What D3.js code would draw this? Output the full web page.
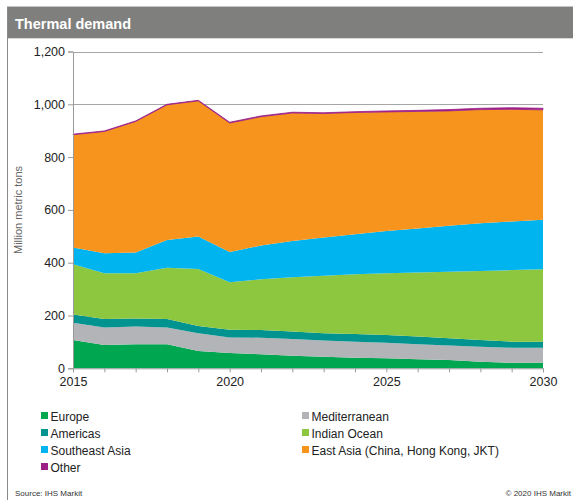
<!DOCTYPE html>
<html>
<head>
<meta charset="utf-8">
<script src="https://cdn.jsdelivr.net/npm/d3@7"></script>
<style>
  html, body { margin: 0; padding: 0; background: #fff; }
  svg { display: block; font-family: "Liberation Sans", Arial, sans-serif; }
</style>
</head>
<body>
<svg id="chart" width="573" height="500"></svg>
<script>
// Thermal coal demand by region, million metric tons
const years = [2015, 2016, 2017, 2018, 2019, 2020, 2021, 2022, 2023, 2024, 2025, 2026, 2027, 2028, 2029, 2030];
const europe        = [107, 88, 91, 91, 66, 58, 53, 48, 44, 40, 38, 34, 31, 25, 21, 21];
const mediterranean = [66, 67, 67, 64, 67, 59, 63, 63, 61, 61, 59, 57, 55, 57, 57, 57];
const americas      = [31, 32, 31, 32, 27, 29, 29, 28, 28, 29, 29, 29, 28, 25, 23, 23];
const indianOcean   = [190, 173, 171, 194, 216, 180, 192, 206, 218, 226, 234, 243, 252, 262, 271, 274];
const southeastAsia = [64, 76, 79, 105, 123, 115, 128, 137, 144, 152, 160, 167, 174, 180, 184, 188];
const eastAsia      = [427, 461, 496, 512, 514, 488, 488, 485, 470, 461, 451, 443, 435, 431, 425, 416];
const other         = [2, 2, 2, 2, 2, 3, 3, 3, 3, 3, 4, 4, 5, 5, 6, 6];

const seriesNames = ["Europe", "Mediterranean", "Americas", "Indian Ocean", "Southeast Asia",
                     "East Asia (China, Hong Kong, JKT)", "Other"];
const seriesValues = [europe, mediterranean, americas, indianOcean, southeastAsia, eastAsia, other];
const seriesColors = ["#00a650", "#b2b4b7", "#009390", "#8dc63f", "#00b4ef", "#f7941e", "#9c1f86"];
const yTicks = [0, 200, 400, 600, 800, 1000, 1200];
const xTickLabels = [2015, 2020, 2025, 2030];

const svg = d3.select("#chart");

// Frame and title band
svg.append("rect").attr("x", 7.5).attr("y", 7).attr("width", 570).attr("height", 500)
  .attr("fill", "none").attr("stroke", "#8a8a8a").attr("stroke-width", 1);
svg.append("rect").attr("x", 8).attr("y", 7).attr("width", 565).attr("height", 31)
  .attr("fill", "#7f807e");
svg.append("line").attr("x1", 8).attr("x2", 573).attr("y1", 38.5).attr("y2", 38.5)
  .attr("stroke", "#d9d9d9").attr("stroke-width", 1);
svg.append("text").attr("x", 15).attr("y", 29)
  .attr("fill", "#ffffff").attr("font-weight", "bold").attr("font-size", "14.5px")
  .text("Thermal demand");

// Plot area
const plotLeft = 73, plotRight = 543, plotTop = 51.5, plotBottom = 368.3;
const x = d3.scaleLinear().domain([2015, 2030]).range([plotLeft, plotRight]);
const y = d3.scaleLinear().domain([0, 1200]).range([plotBottom, plotTop]);

// Gridlines
svg.append("g").selectAll("line").data(yTicks.filter(d => d > 0)).join("line")
  .attr("x1", plotLeft).attr("x2", plotRight)
  .attr("y1", d => Math.round(y(d)) + 0.5).attr("y2", d => Math.round(y(d)) + 0.5)
  .attr("stroke", "#a6a6a6").attr("stroke-width", 1);

// Stacked areas
const rows = years.map((yr, i) => {
  const r = { year: yr };
  seriesNames.forEach((n, k) => { r[n] = seriesValues[k][i]; });
  return r;
});
const stack = d3.stack().keys(seriesNames);
const layers = stack(rows);
const area = d3.area()
  .x(d => x(d.data.year))
  .y0(d => y(d[0]))
  .y1(d => y(d[1]));

svg.append("g").selectAll("path").data(layers).join("path")
  .attr("d", area)
  .attr("fill", (d, i) => seriesColors[i])
  .attr("stroke", (d, i) => i === 6 ? seriesColors[i] : "none")
  .attr("stroke-width", 0.8);

// Y axis
const yAxis = d3.axisLeft(y).tickValues(yTicks).tickSize(5).tickPadding(3)
  .tickFormat(d3.format(","));
const gy = svg.append("g").attr("transform", `translate(${plotLeft},0)`).call(yAxis);
gy.select(".domain").attr("stroke", "#9a9a9a");
gy.selectAll(".tick line").attr("stroke", "#9a9a9a");
gy.selectAll(".tick text").attr("font-size", "12.5px").attr("fill", "#222")
  .attr("font-family", "'Liberation Sans', Arial, sans-serif");

// X axis: a tick every year, labels every five years
const xAxis = d3.axisBottom(x).tickValues(years).tickSize(4).tickPadding(5)
  .tickFormat(d => xTickLabels.includes(d) ? String(d) : "");
const gx = svg.append("g").attr("transform", `translate(0,${plotBottom})`).call(xAxis);
gx.select(".domain").attr("stroke", "#9a9a9a");
gx.selectAll(".tick line").attr("stroke", "#9a9a9a");
gx.selectAll(".tick text").attr("font-size", "12.5px").attr("fill", "#222")
  .attr("font-family", "'Liberation Sans', Arial, sans-serif");

// Y axis title
svg.append("text")
  .attr("transform", "translate(22,210) rotate(-90)")
  .attr("text-anchor", "middle")
  .attr("font-size", "11px").attr("fill", "#666")
  .text("Million metric tons");

// Legend in two columns
const legend = svg.append("g");
seriesNames.forEach((name, k) => {
  const col = k % 2, row = Math.floor(k / 2);
  const lx = col === 0 ? 41 : 302;
  const ly = 416 + row * 17;
  const g = legend.append("g");
  g.append("rect").attr("x", lx).attr("y", ly - 4).attr("width", 7).attr("height", 7)
    .attr("fill", seriesColors[k]);
  g.append("text").attr("x", lx + 9.5).attr("y", ly + 4.5)
    .attr("font-size", "12px").attr("fill", "#222")
    .text(name);
});

// Footer
svg.append("text").attr("x", 15).attr("y", 496)
  .attr("font-size", "8px").attr("fill", "#333").text("Source: IHS Markit");
svg.append("text").attr("x", 571).attr("y", 496).attr("text-anchor", "end")
  .attr("font-size", "8px").attr("fill", "#333").text("\u00a9 2020 IHS Markit");
</script>
</body>
</html>
